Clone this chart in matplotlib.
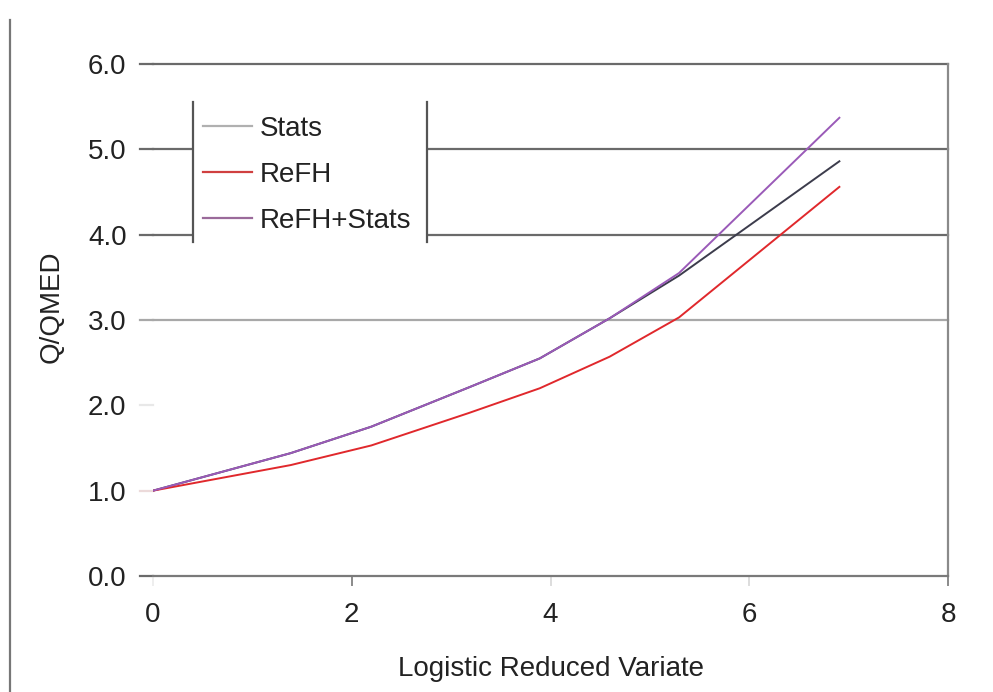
import matplotlib
matplotlib.use("Agg")
import matplotlib.pyplot as plt
import matplotlib.transforms as mtransforms
from matplotlib.lines import Line2D
from matplotlib.patches import Rectangle

plt.rcParams['font.family'] = ['Liberation Sans', 'DejaVu Sans']

# Data (logistic reduced variate for return periods 2..1000 yr)
x_vals = [0.0, 1.386, 2.197, 3.178, 3.892, 4.595, 5.293, 6.907]
stats = [1.00, 1.44, 1.75, 2.21, 2.55, 3.02, 3.52, 4.86]
refh = [1.00, 1.30, 1.53, 1.91, 2.20, 2.57, 3.03, 4.56]
refh_stats = [1.00, 1.44, 1.75, 2.21, 2.55, 3.02, 3.55, 5.37]
series_names = ["Stats", "ReFH", "ReFH+Stats"]
y_ticks = [0, 1, 2, 3, 4, 5, 6]
x_ticks = [0, 2, 4, 6, 8]

FS = 20

fig = plt.figure(figsize=(9.93, 6.92), dpi=100)
ax = fig.add_axes([153/993, 1-576/692, 795/993, 512/692])

ax.set_xlim(0, 8)
ax.set_ylim(0, 6)

# horizontal gridlines
for yv, col in [(3, '#a8a8a8'), (4, '#6a6a6a'), (5, '#6a6a6a'), (6, '#6a6a6a')]:
    ax.axhline(yv, color=col, lw=1.6, zorder=1, clip_on=False)

h_stats, = ax.plot(x_vals, stats, color='#3c3c4c', lw=1.4, zorder=3, label=series_names[0])
h_refh, = ax.plot(x_vals, refh, color='#e0282c', lw=1.4, zorder=3, label=series_names[1])
h_rs, = ax.plot(x_vals, refh_stats, color='#9a5ab8', lw=1.4, zorder=4, label=series_names[2])

# spines
for s in ['left', 'top']:
    ax.spines[s].set_visible(False)
ax.spines['bottom'].set_color('#7a7a7a')
ax.spines['bottom'].set_linewidth(1.6)
ax.spines['right'].set_color('#8a8a8a')
ax.spines['right'].set_linewidth(1.6)

ax.set_yticks(y_ticks)
ax.set_yticklabels([f"{v:.1f}" for v in y_ticks])
ax.set_xticks(x_ticks)
ax.set_xticklabels([str(v) for v in x_ticks])
ax.tick_params(axis='y', length=0, labelcolor='#222222', labelsize=FS, pad=19)
ax.tick_params(axis='x', length=0, labelcolor='#222222', labelsize=FS, pad=19)

# custom tick marks with individual shades
ytr = mtransforms.blended_transform_factory(ax.transAxes, ax.transData)
ytick_cols = ['#6a6a6a', '#ecdada', '#e8e8e8', '#a8a8a8', '#6a6a6a', '#6a6a6a', '#6a6a6a']
for yv, c in zip(y_ticks, ytick_cols):
    ax.add_line(Line2D([-13/795, 0], [yv, yv], transform=ytr, color=c, lw=1.6,
                       clip_on=False, zorder=2))
xtr = mtransforms.blended_transform_factory(ax.transData, ax.transAxes)
xtick_cols = ['#eeeeee', '#8a8a8a', '#dddddd', '#dddddd', '#8a8a8a']
for xv, c in zip(x_ticks, xtick_cols):
    ax.add_line(Line2D([xv, xv], [0, -9/512], transform=xtr, color=c, lw=1.4,
                       clip_on=False, zorder=2))

ax.set_xlabel("Logistic Reduced Variate", fontsize=FS, color='#222222', labelpad=20)
ax.set_ylabel("Q/QMED", fontsize=FS, color='#222222')
ax.yaxis.set_label_coords(-88/795, (576-307)/512)

# legend box: white background with left/right edges only
bx0 = (193-153)/795
bx1 = (427-153)/795
by0 = (576-242)/512
by1 = (576-102)/512
ax.add_patch(Rectangle((bx0, by0), bx1-bx0, by1-by0, transform=ax.transAxes,
                       facecolor='white', edgecolor='none', zorder=5))
for bx in (bx0, bx1):
    ax.add_line(Line2D([bx, bx], [by0, by1], transform=ax.transAxes,
                       color='#555555', lw=1.6, zorder=6))

leg_handles = [Line2D([], [], color='#b0b0b0', lw=1.6),
               Line2D([], [], color='#d04040', lw=1.6),
               Line2D([], [], color='#9a6a9a', lw=1.6)]
leg = ax.legend(leg_handles, series_names, loc='upper left',
                bbox_to_anchor=((203-153)/795, (576-116)/512),
                frameon=False, fontsize=FS, borderpad=0, borderaxespad=0,
                handlelength=1.76, handletextpad=0.3, labelspacing=0.72)
leg.set_zorder(7)
for t in leg.get_texts():
    t.set_color('#222222')

# figure left border line
fig.add_artist(Line2D([10/993, 10/993], [0, 1-20/692], transform=fig.transFigure,
                      color='#777777', lw=1.6))

fig.savefig("out.png", dpi=100, facecolor='white')
